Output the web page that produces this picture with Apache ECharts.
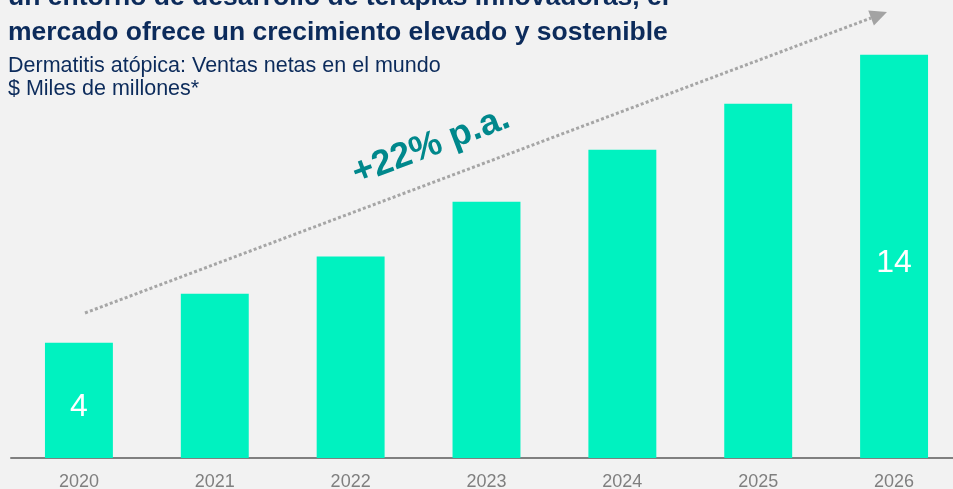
<!DOCTYPE html>
<html>
<head>
<meta charset="utf-8">
<script src="https://cdn.jsdelivr.net/npm/echarts@6/dist/echarts.min.js"></script>
<style>
  html, body { margin: 0; padding: 0; background: #f2f2f2; }
  #chart { width: 953px; height: 489px; }
</style>
</head>
<body>
<div id="chart"></div>
<script>
// Global atopic dermatitis net sales, $ billions
const years = ['2020', '2021', '2022', '2023', '2024', '2025', '2026'];
const sales = [4, 5.7, 7.0, 8.9, 10.7, 12.3, 14];
// Only the first and last bars carry a value label
const labelledYears = ['2020', '2026'];

const titleLines = [
  'un entorno de desarrollo de terapias innovadoras, el',
  'mercado ofrece un crecimiento elevado y sostenible'
];
const subtitleLines = [
  'Dermatitis atópica: Ventas netas en el mundo',
  '$ Miles de millones*'
];
const growthText = '+22% p.a.';

const FONT = '"Liberation Sans", Arial, Helvetica, sans-serif';
const NAVY = '#0c2b5b';

const chart = echarts.init(document.getElementById('chart'), null, { renderer: 'canvas' });

// Growth arrow geometry
const arrowStart = [85, 313];
const arrowTip = [887, 12];
const dx = arrowTip[0] - arrowStart[0], dy = arrowTip[1] - arrowStart[1];
const len = Math.sqrt(dx * dx + dy * dy);
const ux = dx / len, uy = dy / len;
const headLen = 17, headHalf = 8;
const base = [arrowTip[0] - ux * headLen, arrowTip[1] - uy * headLen];
const angle = Math.atan2(-dy, dx);

chart.setOption({
  backgroundColor: '#f2f2f2',
  animation: false,
  grid: { left: 11, width: 951, bottom: 31, top: 26, containLabel: false, outerBoundsMode: 'none' },
  xAxis: {
    type: 'category',
    data: years,
    axisLine: { lineStyle: { color: '#808080', width: 2 } },
    axisTick: { show: false },
    axisLabel: { color: '#7f7f7f', fontSize: 18, fontFamily: FONT, margin: 15 }
  },
  yAxis: {
    type: 'value', min: 0, max: 15,
    show: false,
    splitLine: { show: false }
  },
  series: [{
    type: 'bar',
    data: sales,
    barWidth: '50%',
    itemStyle: { color: '#00f2c0' },
    label: {
      show: true,
      position: 'inside',
      offset: [0, 7],
      color: '#ffffff',
      fontSize: 32,
      fontFamily: FONT,
      formatter: p => labelledYears.includes(p.name) ? String(p.value) : ''
    }
  }],
  graphic: [
    {
      type: 'text', left: 8, top: -16, silent: true,
      style: { text: titleLines[0], font: 'bold 26.5px ' + FONT, fill: NAVY }
    },
    {
      type: 'text', left: 8, top: 19, silent: true,
      style: { text: titleLines[1], font: 'bold 26.5px ' + FONT, fill: NAVY }
    },
    {
      type: 'text', left: 8, top: 55, silent: true,
      style: { text: subtitleLines[0], font: '21.5px ' + FONT, fill: NAVY }
    },
    {
      type: 'text', left: 8, top: 78, silent: true,
      style: { text: subtitleLines[1], font: '21.5px ' + FONT, fill: NAVY }
    },
    {
      type: 'line', silent: true,
      shape: { x1: arrowStart[0], y1: arrowStart[1], x2: base[0], y2: base[1] },
      style: { stroke: '#a6a6a6', lineWidth: 3, lineDash: [3, 2.3] }
    },
    {
      type: 'polygon', silent: true,
      shape: {
        points: [
          arrowTip,
          [base[0] - uy * headHalf, base[1] + ux * headHalf],
          [base[0] + uy * headHalf, base[1] - ux * headHalf]
        ]
      },
      style: { fill: '#a3a3a3' }
    },
    {
      type: 'text', silent: true,
      x: 431, y: 146, rotation: angle,
      style: {
        text: growthText, font: 'bold 36px ' + FONT, fill: '#00888c',
        align: 'center', verticalAlign: 'middle'
      }
    }
  ]
});
</script>
</body>
</html>
